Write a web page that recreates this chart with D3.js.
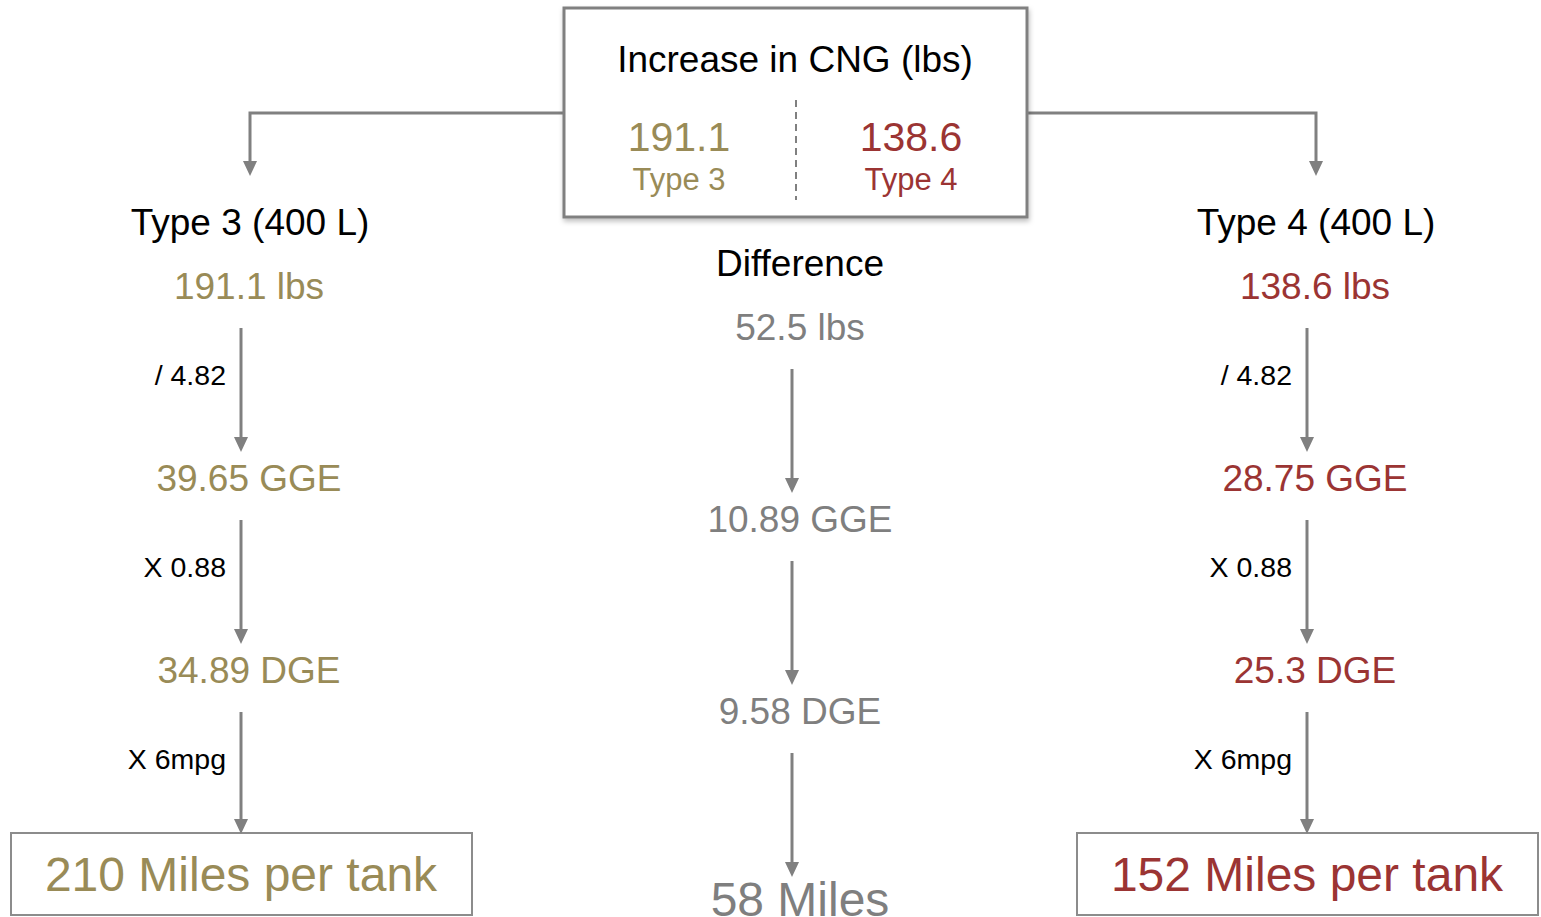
<!DOCTYPE html>
<html>
<head>
<meta charset="utf-8">
<script src="https://cdn.jsdelivr.net/npm/d3@7"></script>
<style>
  html, body { margin: 0; padding: 0; background: #fff; }
  svg { display: block; font-family: "Liberation Sans", Arial, Helvetica, sans-serif; }
</style>
</head>
<body>
<svg id="chart" width="1541" height="917"></svg>
<script>
// ---- data ----
const headerTitle = "Increase in CNG (lbs)";
const cngValues = [191.1, 138.6];
const cngLabels = ["Type 3", "Type 4"];
const columns = ["Type 3 (400 L)", "Difference", "Type 4 (400 L)"];
const type3Steps = ["191.1 lbs", "39.65 GGE", "34.89 DGE", "210 Miles per tank"];
const diffSteps = ["52.5 lbs", "10.89 GGE", "9.58 DGE", "58 Miles"];
const type4Steps = ["138.6 lbs", "28.75 GGE", "25.3 DGE", "152 Miles per tank"];
const operations = ["/ 4.82", "X 0.88", "X 6mpg"];

// ---- styles ----
const OLIVE = "#998b57";
const RED = "#9b3433";
const GRAY = "#808080";
const GRAYTEXT = "#7f7f7f";
const colColors = [OLIVE, GRAYTEXT, RED];
const stepsByCol = [type3Steps, diffSteps, type4Steps];

const svg = d3.select("#chart");
const defs = svg.append("defs");
const f = defs.append("filter").attr("id", "shadow").attr("x", "-5%").attr("y", "-5%").attr("width", "115%").attr("height", "120%");
f.append("feDropShadow").attr("dx", 1).attr("dy", 3).attr("stdDeviation", 2.5).attr("flood-color", "#000").attr("flood-opacity", 0.25);

const marker = defs.append("marker").attr("id", "arrow")
  .attr("viewBox", "0 0 14 15").attr("refX", 7).attr("refY", 15)
  .attr("markerWidth", 14).attr("markerHeight", 15).attr("markerUnits", "userSpaceOnUse")
  .attr("orient", "auto-start-reverse");
marker.append("path").attr("d", "M0,0 L14,0 L7,15 Z").attr("fill", GRAY);

// scales
const textX = d3.scaleOrdinal().domain(columns).range([249, 800, 1315]);
const arrowX = d3.scaleOrdinal().domain(columns).range([241, 792, 1307]);
const branchX = d3.scaleOrdinal().domain(columns).range([250, 800, 1316]);
const stepY = d3.scaleLinear().domain([0, 3]).range([299, 875]);
const colOffset = d3.scaleOrdinal().domain(columns).range([0, 41, 0]);
const headerX = d3.scaleOrdinal().domain(cngLabels).range([679, 911]);

function arrowLine(x, y1, y2) {
  // y2 is the tip; line ends at head base
  svg.append("line").attr("x1", x).attr("x2", x).attr("y1", y1).attr("y2", y2 - 14)
    .attr("stroke", GRAY).attr("stroke-width", 3);
  svg.append("path").attr("d", `M${x - 7},${y2 - 15} L${x + 7},${y2 - 15} L${x},${y2} Z`).attr("fill", GRAY);
}

// ---- header box ----
const box = { x: 564, y: 8, w: 463, h: 209 };
// connectors
svg.append("path")
  .attr("d", `M${box.x},113 H${branchX(columns[0])} V${176 - 14}`)
  .attr("fill", "none").attr("stroke", GRAY).attr("stroke-width", 3);
svg.append("path").attr("d", `M${branchX(columns[0]) - 7},161 L${branchX(columns[0]) + 7},161 L${branchX(columns[0])},176 Z`).attr("fill", GRAY);
svg.append("path")
  .attr("d", `M${box.x + box.w},113 H${branchX(columns[2])} V${176 - 14}`)
  .attr("fill", "none").attr("stroke", GRAY).attr("stroke-width", 3);
svg.append("path").attr("d", `M${branchX(columns[2]) - 7},161 L${branchX(columns[2]) + 7},161 L${branchX(columns[2])},176 Z`).attr("fill", GRAY);

svg.append("rect").attr("x", box.x).attr("y", box.y).attr("width", box.w).attr("height", box.h)
  .attr("fill", "#fff").attr("stroke", GRAY).attr("stroke-width", 3).attr("filter", "url(#shadow)");

svg.append("text").attr("x", 795).attr("y", 72).attr("text-anchor", "middle")
  .attr("font-size", 37).attr("fill", "#000").text(headerTitle);

svg.append("line").attr("x1", 796).attr("x2", 796).attr("y1", 100).attr("y2", 200)
  .attr("stroke", GRAY).attr("stroke-width", 2).attr("stroke-dasharray", "7,5");

cngLabels.forEach((lab, i) => {
  svg.append("text").attr("x", headerX(lab)).attr("y", 151).attr("text-anchor", "middle")
    .attr("font-size", 41).attr("fill", i === 0 ? OLIVE : RED).text(cngValues[i].toFixed(1));
  svg.append("text").attr("x", headerX(lab)).attr("y", 190).attr("text-anchor", "middle")
    .attr("font-size", 31).attr("fill", i === 0 ? OLIVE : RED).text(lab);
});

// ---- columns ----
columns.forEach((col, ci) => {
  const off = colOffset(col);
  const titleY = ci === 1 ? 276 : 235;
  svg.append("text").attr("x", ci === 1 ? 800 : branchX(col)).attr("y", titleY).attr("text-anchor", "middle")
    .attr("font-size", 37).attr("fill", "#000").text(col);

  const steps = stepsByCol[ci];
  steps.forEach((s, si) => {
    const isLast = si === steps.length - 1;
    const y = stepY(si) + off + (isLast && ci !== 1 ? 16 : 0);
    const x = isLast ? arrowX(col) + (ci === 1 ? 8 : 0) : textX(col);
    svg.append("text").attr("x", x).attr("y", y).attr("text-anchor", "middle")
      .attr("font-size", isLast ? 48 : 37).attr("fill", colColors[ci]).text(s);
  });

  operations.forEach((op, oi) => {
    const y1 = stepY(oi) + off + 29;
    const last = oi === operations.length - 1 && ci !== 1;
    const tip = last ? 834 : stepY(oi + 1) + off - 39;
    arrowLine(arrowX(col), y1, tip);
    if (ci !== 1) {
      svg.append("text").attr("x", arrowX(col) - 15).attr("y", stepY(oi) + 86)
        .attr("text-anchor", "end").attr("font-size", 28.5).attr("fill", "#000").text(op);
    }
  });
});

// ---- result boxes ----
const resultBoxes = [[11, 833, 461, 82], [1077, 833, 461, 82]];
resultBoxes.forEach(b => {
  svg.insert("rect", "text").attr("x", b[0]).attr("y", b[1]).attr("width", b[2]).attr("height", b[3])
    .attr("fill", "none").attr("stroke", "#8c8c8c").attr("stroke-width", 2);
});
</script>
</body>
</html>
